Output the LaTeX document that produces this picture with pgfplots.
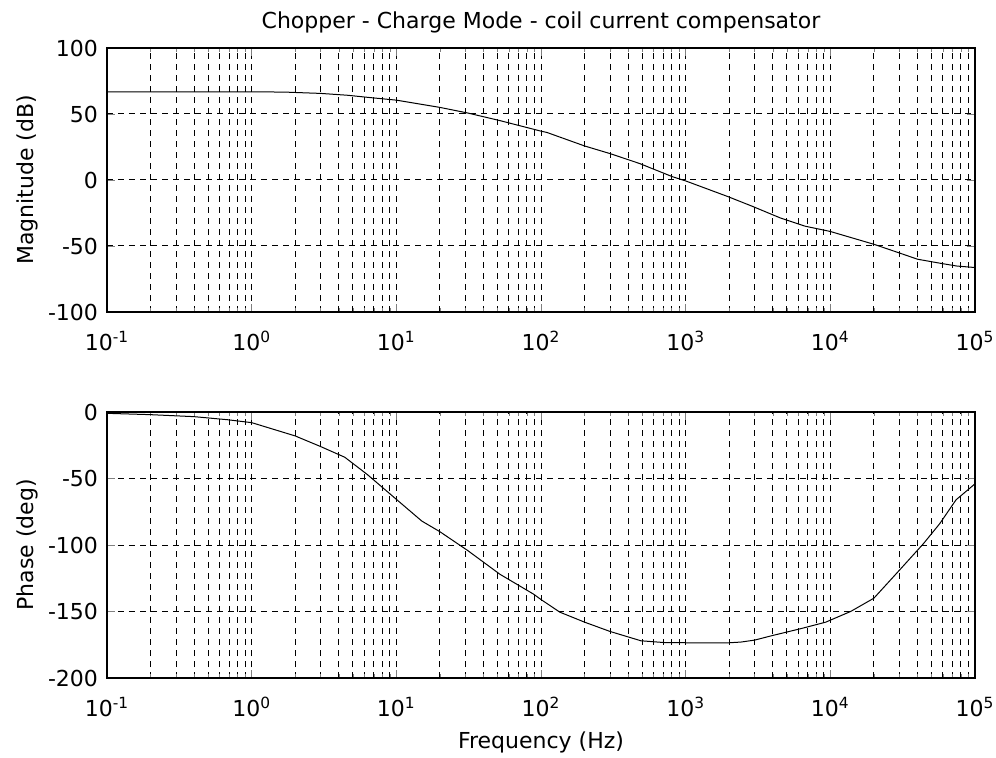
\documentclass[border=0pt]{standalone}
\usepackage{fontspec}
\setmainfont{DejaVu Sans}
\usepackage{pgfplots}
\pgfplotsset{compat=1.18}

\begin{document}
\begin{tikzpicture}[font=\fontsize{11}{13}\selectfont]
\useasboundingbox (0,0) rectangle (498pt,-379pt);

% magnitude
\begin{semilogxaxis}[scale only axis, width=434pt, height=132pt,
  at={(53.5pt,-156pt)}, anchor=south west,
  xmin=0.1, xmax=100000,
  xtick={0.1,1,10,100,1000,10000,100000},
  xticklabels={10\textsuperscript{-1},10\textsuperscript{0},10\textsuperscript{1},10\textsuperscript{2},10\textsuperscript{3},10\textsuperscript{4},10\textsuperscript{5}},
  xticklabel style={yshift=-6pt},
  yticklabel style={xshift=-1pt},
  tick align=inside, xtick pos=both, ytick pos=both,
  major tick length=4pt, minor tick length=2pt,
  xmajorgrids, xminorgrids, ymajorgrids,
  major grid style={black, line width=0.5pt, dash pattern=on 3pt off 2.5pt},
  minor grid style={black, line width=0.5pt, dash pattern=on 3pt off 2.5pt},
  axis line style={line width=0.7pt},
  ylabel style={at={(axis description cs:-0.071,0.5)}, anchor=south},
  title style={yshift=-2pt},
  ymin=-100, ymax=100, ytick={-100,-50,0,50,100},
  yticklabels={-100,-50,0,50,100},
  ylabel={Magnitude (dB)},
  title={Chopper - Charge Mode - coil current compensator}]
\addplot[black, line width=0.5pt] coordinates {
 (0.1,66.8) (1,66.8) (1.7,66.6) (2,66.3) (3,65.6) (4.6,64.2) (6.5,62.5)
 (10,60.5) (20,55) (31,50.8) (52,45) (100,37) (110,36) (200,25.8)
 (300,20) (480,12.5) (810,2.5) (1000,-0.7) (1950,-12.5) (2900,-20)
 (4500,-28.7) (6700,-35) (10000,-39) (20000,-48.7) (29500,-55)
 (40000,-60) (57000,-63) (75000,-65.2) (100000,-66.3)
};
\end{semilogxaxis}

% phase
\begin{semilogxaxis}[scale only axis, width=434pt, height=133pt,
  at={(53.5pt,-339pt)}, anchor=south west,
  xmin=0.1, xmax=100000,
  xtick={0.1,1,10,100,1000,10000,100000},
  xticklabels={10\textsuperscript{-1},10\textsuperscript{0},10\textsuperscript{1},10\textsuperscript{2},10\textsuperscript{3},10\textsuperscript{4},10\textsuperscript{5}},
  xticklabel style={yshift=-6pt},
  yticklabel style={xshift=-1pt},
  tick align=inside, xtick pos=both, ytick pos=both,
  major tick length=4pt, minor tick length=2pt,
  xmajorgrids, xminorgrids, ymajorgrids,
  major grid style={black, line width=0.5pt, dash pattern=on 3pt off 2.5pt},
  minor grid style={black, line width=0.5pt, dash pattern=on 3pt off 2.5pt},
  axis line style={line width=0.7pt},
  ylabel style={at={(axis description cs:-0.071,0.5)}, anchor=south},
  xlabel style={at={(axis description cs:0.5,-0.175)}, anchor=north},
  ymin=-200, ymax=0, ytick={-200,-150,-100,-50,0},
  yticklabels={-200,-150,-100,-50,0},
  ylabel={Phase (deg)}, xlabel={Frequency (Hz)}]
\addplot[black, line width=0.5pt] coordinates {
 (0.1,-1) (0.2,-2) (0.4,-3.5) (0.68,-5.8) (1,-8) (2,-18) (3,-26) (4.4,-34)
 (6.3,-47) (9.6,-64) (15,-82) (20,-90) (31,-104) (52,-122) (89,-137)
 (100,-141) (135,-150.5) (200,-158) (300,-165) (490,-172) (700,-173.3)
 (1000,-173.5) (2000,-173.5) (2400,-173) (3000,-171.5) (4000,-168)
 (6200,-163) (9300,-158) (13800,-150) (20000,-140) (30000,-119)
 (44000,-99) (57000,-84) (74000,-66) (100000,-54)
};
\end{semilogxaxis}
\end{tikzpicture}
\end{document}
